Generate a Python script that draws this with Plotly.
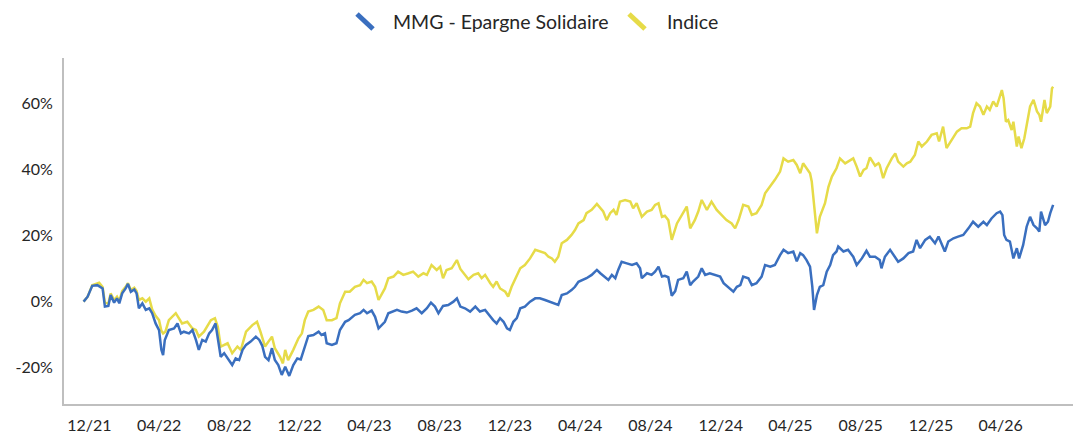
import plotly.graph_objects as go

# ---------------- data ----------------
fund_dates = [
    "2021-11-21","2021-11-28","2021-12-06","2021-12-15","2021-12-24","2021-12-28","2022-01-03","2022-01-07",
    "2022-01-13","2022-01-18","2022-01-22","2022-01-27","2022-02-02","2022-02-06","2022-02-11","2022-02-17",
    "2022-02-21","2022-02-25","2022-03-03","2022-03-09","2022-03-15","2022-03-20","2022-03-26","2022-04-01",
    "2022-04-05","2022-04-08","2022-04-11","2022-04-18","2022-04-27","2022-05-03","2022-05-09","2022-05-14",
    "2022-05-23","2022-05-29","2022-06-04","2022-06-09","2022-06-15","2022-06-21","2022-06-27","2022-07-02",
    "2022-07-08","2022-07-12","2022-07-17","2022-07-23","2022-07-29","2022-08-06","2022-08-12","2022-08-18",
    "2022-08-24","2022-08-30","2022-09-07","2022-09-16","2022-09-22","2022-09-27","2022-10-02","2022-10-08",
    "2022-10-14","2022-10-19","2022-10-25","2022-10-31","2022-11-06","2022-11-13","2022-11-20","2022-11-27",
    "2022-12-03","2022-12-10","2022-12-16","2022-12-25","2023-01-03","2023-01-08","2023-01-14","2023-01-17",
    "2023-01-26","2023-02-03","2023-02-09","2023-02-18","2023-02-24","2023-03-07","2023-03-16","2023-03-22",
    "2023-03-28","2023-04-05","2023-04-11","2023-04-17","2023-04-23","2023-04-28","2023-05-04","2023-05-13",
    "2023-05-19","2023-05-27","2023-06-05","2023-06-14","2023-06-22","2023-07-01","2023-07-10","2023-07-17",
    "2023-07-24","2023-07-30","2023-08-07","2023-08-16","2023-08-25","2023-08-31","2023-09-06","2023-09-14",
    "2023-09-23","2023-10-02","2023-10-10","2023-10-19","2023-10-28","2023-11-02","2023-11-08","2023-11-14",
    "2023-11-20","2023-11-26","2023-12-01","2023-12-07","2023-12-13","2023-12-19","2023-12-27","2024-01-05",
    "2024-01-14","2024-01-22","2024-01-31","2024-02-09","2024-02-17","2024-02-23","2024-02-29","2024-03-09",
    "2024-03-17","2024-03-23","2024-03-29","2024-04-07","2024-04-12","2024-04-21","2024-04-30","2024-05-06",
    "2024-05-14","2024-05-20","2024-05-26","2024-06-01","2024-06-06","2024-06-12","2024-06-21","2024-06-30",
    "2024-07-08","2024-07-14","2024-07-17","2024-07-26","2024-08-03","2024-08-09","2024-08-15","2024-08-21",
    "2024-08-26","2024-09-01","2024-09-07","2024-09-13","2024-09-18","2024-09-27","2024-10-03","2024-10-09",
    "2024-10-14","2024-10-23","2024-10-29","2024-11-04","2024-11-12","2024-11-21","2024-11-30","2024-12-06",
    "2024-12-14","2024-12-23","2024-12-29","2025-01-04","2025-01-09","2025-01-18","2025-01-24","2025-02-01",
    "2025-02-10","2025-02-16","2025-02-25","2025-03-05","2025-03-14","2025-03-20","2025-03-28","2025-04-06",
    "2025-04-12","2025-04-18","2025-04-23","2025-04-29","2025-05-05","2025-05-09","2025-05-12","2025-05-17",
    "2025-05-22","2025-05-28","2025-06-03","2025-06-09","2025-06-14","2025-06-20","2025-06-23","2025-07-02",
    "2025-07-10","2025-07-19","2025-07-25","2025-08-03","2025-08-11","2025-08-17","2025-08-26","2025-09-03",
    "2025-09-06","2025-09-12","2025-09-21","2025-09-27","2025-10-05","2025-10-14","2025-10-23","2025-10-31",
    "2025-11-06","2025-11-12","2025-11-21","2025-11-29","2025-12-08","2025-12-14","2025-12-20","2025-12-25",
    "2025-12-31","2026-01-09","2026-01-17","2026-01-26","2026-02-04","2026-02-12","2026-02-21","2026-03-02",
    "2026-03-08","2026-03-16","2026-03-25","2026-03-31","2026-04-04","2026-04-07","2026-04-11","2026-04-17",
    "2026-04-23","2026-04-29","2026-05-03","2026-05-10","2026-05-16","2026-05-22","2026-05-28","2026-06-03",
    "2026-06-07","2026-06-10","2026-06-17","2026-06-22","2026-06-26","2026-07-01",
]
fund_values = [
    -0.2, 1.3, 4.6, 4.8, 3.8, -1.7, -1.5, 1.8,
    -0.5, 0.8, -0.7, 2.3, 3.8, 5.2, 2.8, 3.5,
    2.3, -2.2, -0.7, -2.7, -2.2, -3.7, -6.8, -8.8,
    -14.8, -16.4, -11.8, -8.8, -8.3, -6.8, -9.8, -9.3,
    -9.8, -8.8, -11.8, -14.8, -11.8, -12.3, -9.8, -8.8,
    -6.8, -10.8, -16.9, -15.8, -17.4, -19.4, -17.4, -17.9,
    -14.8, -13.3, -12.3, -10.8, -11.8, -13.5, -16.9, -17.9,
    -14.3, -17.9, -19.4, -22.4, -19.9, -22.7, -19.4, -17.4,
    -17.7, -13.8, -10.6, -10.3, -9.3, -10.3, -9.8, -12.8,
    -13.3, -12.8, -8.8, -6.3, -5.8, -4.2, -3.7, -2.7,
    -3.7, -2.9, -4.8, -8.3, -7.3, -6.3, -3.7, -3.2,
    -2.7, -3.2, -3.5, -2.9, -2.2, -3.7, -2.2, -0.5,
    -1.7, -3.7, -1.5, -1.2, -0.2, 0.8, -1.7, -2.2,
    -3.2, -1.7, -3.2, -2.7, -4.8, -5.8, -6.8, -5.2,
    -6.3, -8.3, -8.8, -6.3, -5.2, -2.2, -1.7, -0.2,
    0.8, 0.8, 0.3, -0.2, -0.7, -1.2, 1.8, 2.3,
    3.3, 4.3, 5.8, 6.4, 6.9, 7.9, 9.4, 8.4,
    7.4, 6.4, 7.9, 6.9, 9.4, 11.9, 11.4, 10.9,
    11.4, 9.9, 6.9, 8.4, 7.9, 8.9, 10.4, 7.4,
    7.6, 7.2, 1.6, 3.0, 6.4, 6.9, 8.9, 4.8,
    5.9, 7.4, 9.9, 7.9, 8.4, 7.9, 7.4, 5.4,
    4.3, 2.8, 4.3, 4.8, 7.4, 6.9, 4.8, 5.4,
    7.4, 10.9, 10.4, 10.9, 13.9, 15.5, 14.5, 15.0,
    12.0, 14.5, 13.9, 12.4, 10.4, 4.3, -2.7, 1.8,
    4.3, 4.8, 8.9, 10.9, 13.9, 15.0, 16.5, 15.0,
    15.5, 13.4, 10.9, 12.9, 15.2, 13.4, 13.4, 12.4,
    9.9, 13.4, 15.5, 14.0, 11.9, 12.9, 14.5, 15.0,
    18.5, 16.0, 18.5, 19.5, 17.5, 19.5, 17.0, 15.0,
    18.0, 19.0, 19.5, 20.0, 22.0, 24.0, 22.5, 24.0,
    23.0, 25.0, 26.6, 27.1, 26.0, 20.0, 18.5, 18.0,
    12.9, 16.0, 12.9, 17.0, 22.5, 25.5, 23.0, 22.0,
    21.0, 27.1, 23.0, 24.0, 26.6, 29.1,
]

index_dates = [
    "2021-11-21","2021-11-28","2021-12-06","2021-12-15","2021-12-18","2021-12-24","2021-12-28","2022-01-03",
    "2022-01-07","2022-01-13","2022-01-18","2022-01-22","2022-01-27","2022-02-02","2022-02-06","2022-02-11",
    "2022-02-17","2022-02-21","2022-02-25","2022-03-03","2022-03-09","2022-03-15","2022-03-20","2022-03-26",
    "2022-04-01","2022-04-05","2022-04-08","2022-04-12","2022-04-18","2022-04-30","2022-05-06","2022-05-11",
    "2022-05-20","2022-05-29","2022-06-04","2022-06-09","2022-06-18","2022-06-30","2022-07-07","2022-07-12",
    "2022-07-17","2022-07-29","2022-08-06","2022-08-15","2022-08-21","2022-08-30","2022-09-10","2022-09-18",
    "2022-09-24","2022-10-02","2022-10-14","2022-10-19","2022-10-28","2022-11-02","2022-11-06","2022-11-11",
    "2022-11-20","2022-11-29","2022-12-05","2022-12-10","2022-12-16","2022-12-25","2023-01-03","2023-01-11",
    "2023-01-17","2023-01-26","2023-02-03","2023-02-09","2023-02-18","2023-02-26","2023-03-07","2023-03-16",
    "2023-03-22","2023-03-28","2023-04-05","2023-04-11","2023-04-17","2023-04-23","2023-04-28","2023-05-04",
    "2023-05-13","2023-05-21","2023-05-30","2023-06-08","2023-06-16","2023-06-25","2023-07-04","2023-07-10",
    "2023-07-18","2023-07-27","2023-08-02","2023-08-07","2023-08-13","2023-08-22","2023-08-31","2023-09-06",
    "2023-09-11","2023-09-20","2023-09-29","2023-10-07","2023-10-13","2023-10-19","2023-10-28","2023-11-02",
    "2023-11-08","2023-11-14","2023-11-23","2023-11-28","2023-12-04","2023-12-10","2023-12-19","2023-12-27",
    "2024-01-05","2024-01-14","2024-01-22","2024-01-31","2024-02-06","2024-02-12","2024-02-17","2024-02-23",
    "2024-02-29","2024-03-09","2024-03-17","2024-03-23","2024-03-29","2024-04-07","2024-04-12","2024-04-21",
    "2024-04-30","2024-05-06","2024-05-11","2024-05-17","2024-05-23","2024-05-29","2024-06-03","2024-06-09",
    "2024-06-18","2024-06-27","2024-07-02","2024-07-08","2024-07-17","2024-07-26","2024-08-03","2024-08-09",
    "2024-08-15","2024-08-21","2024-08-26","2024-09-01","2024-09-07","2024-09-16","2024-09-24","2024-10-03",
    "2024-10-09","2024-10-17","2024-10-23","2024-10-29","2024-11-07","2024-11-15","2024-11-24","2024-12-03",
    "2024-12-11","2024-12-20","2024-12-26","2025-01-01","2025-01-09","2025-01-18","2025-01-24","2025-02-01",
    "2025-02-10","2025-02-16","2025-02-25","2025-03-05","2025-03-14","2025-03-20","2025-03-28","2025-04-06",
    "2025-04-12","2025-04-18","2025-04-23","2025-04-29","2025-05-05","2025-05-08","2025-05-12","2025-05-17",
    "2025-05-22","2025-05-31","2025-06-06","2025-06-12","2025-06-20","2025-06-26","2025-07-05","2025-07-10",
    "2025-07-19","2025-07-25","2025-07-31","2025-08-06","2025-08-11","2025-08-17","2025-08-26","2025-09-01",
    "2025-09-03","2025-09-09","2025-09-15","2025-09-24","2025-09-30","2025-10-05","2025-10-14","2025-10-20",
    "2025-10-26","2025-11-03","2025-11-09","2025-11-15","2025-11-24","2025-12-02","2025-12-11","2025-12-15",
    "2025-12-22","2025-12-28","2026-01-06","2026-01-15","2026-01-23","2026-02-01","2026-02-07","2026-02-12",
    "2026-02-18","2026-02-24","2026-03-02","2026-03-08","2026-03-13","2026-03-19","2026-03-25","2026-03-31",
    "2026-04-03","2026-04-06","2026-04-10","2026-04-14","2026-04-20","2026-04-23","2026-04-29","2026-05-02",
    "2026-05-07","2026-05-12","2026-05-19","2026-05-22","2026-05-28","2026-06-03","2026-06-07","2026-06-10",
    "2026-06-16","2026-06-20","2026-06-26","2026-06-29","2026-07-01",
]
index_values = [
    -0.2, 1.3, 4.8, 5.3, 5.5, 4.2, -0.5, -0.8,
    2.3, 0.3, 1.3, 0.0, 3.0, 4.3, 5.4, 3.3,
    4.0, 3.0, 0.3, 0.8, -0.2, 0.8, -2.5, -4.5,
    -5.8, -9.0, -9.8, -9.3, -5.8, -3.7, -5.2, -6.8,
    -6.3, -8.3, -8.8, -10.8, -9.3, -5.8, -5.2, -7.8,
    -13.8, -12.8, -15.8, -13.8, -14.8, -9.3, -7.3, -6.3,
    -9.3, -13.8, -10.8, -14.3, -16.9, -18.9, -14.8, -17.9,
    -14.8, -11.3, -9.8, -5.8, -3.2, -2.7, -1.7, -2.7,
    -5.8, -5.8, -5.2, -0.7, 2.8, 2.8, 4.3, 4.8,
    6.4, 5.4, 5.9, 4.3, 0.3, 2.3, 3.8, 6.9,
    7.4, 8.9, 7.9, 8.4, 8.9, 7.4, 8.4, 7.9,
    10.9, 9.4, 10.4, 6.9, 9.4, 9.9, 12.4, 9.7,
    8.6, 6.6, 7.9, 8.4, 6.9, 7.9, 5.4, 4.3,
    5.9, 3.8, 2.8, 1.3, 4.3, 6.4, 9.9, 10.9,
    12.9, 15.5, 15.0, 14.5, 13.4, 12.9, 11.9, 13.4,
    17.5, 18.5, 20.0, 21.5, 23.5, 24.5, 26.6, 27.6,
    29.4, 28.1, 27.1, 24.5, 26.6, 27.6, 26.1, 30.1,
    30.6, 30.1, 28.1, 29.6, 25.5, 27.1, 27.6, 29.1,
    29.6, 25.5, 25.8, 24.5, 18.5, 23.5, 26.1, 28.6,
    22.0, 24.5, 27.1, 30.6, 27.6, 30.1, 27.6, 26.1,
    24.5, 23.5, 22.0, 24.5, 29.1, 28.6, 26.1, 26.6,
    29.1, 32.6, 34.6, 36.7, 39.2, 43.2, 42.2, 42.7,
    41.2, 38.7, 41.7, 40.2, 38.7, 36.2, 29.6, 20.5,
    25.5, 29.6, 34.6, 37.7, 40.2, 43.2, 41.7, 42.2,
    43.2, 40.7, 37.7, 39.7, 40.2, 43.5, 41.0, 41.7,
    41.2, 37.2, 40.2, 43.2, 44.7, 42.2, 40.7, 41.7,
    42.2, 44.2, 48.3, 46.8, 48.3, 50.3, 50.8, 48.3,
    52.8, 46.3, 48.8, 51.3, 52.3, 52.3, 52.8, 56.9,
    59.9, 58.9, 56.4, 58.9, 57.9, 60.4, 58.9, 62.4,
    63.9, 61.4, 54.3, 54.8, 51.8, 54.3, 46.8, 49.8,
    46.3, 49.3, 56.9, 58.9, 60.9, 57.4, 56.4, 54.3,
    60.9, 56.9, 58.9, 64.4, 64.9, 63.4,
]

series_names = ["MMG - Epargne Solidaire", "Indice"]
tick_dates = ["2021-12-01", "2022-04-01", "2022-08-01", "2022-12-01", "2023-04-01",
              "2023-08-01", "2023-12-01", "2024-04-01", "2024-08-01", "2024-12-01",
              "2025-04-01", "2025-08-01", "2025-12-01", "2026-04-01"]
y_ticks = [-20, 0, 20, 40, 60]
y_tick_labels = [f"{v}%" for v in y_ticks]

# ---------------- style ----------------
BLUE = "#3A6FBF"
YELLOW = "#E6DB48"
FONT = "Lato, 'Open Sans', sans-serif"
TEXT = "#262626"
AXIS = "#BFBFBF"

fig = go.Figure()
fig.add_trace(go.Scatter(x=index_dates, y=index_values, mode="lines",
                         name=series_names[1], line=dict(color=YELLOW, width=2.5),
                         showlegend=False))
fig.add_trace(go.Scatter(x=fund_dates, y=fund_values, mode="lines",
                         name=series_names[0], line=dict(color=BLUE, width=2.5),
                         showlegend=False))

# custom legend (slanted swatches like the original)
W, H = 1079, 434
L, R, T, B = 64, 6, 58, 30
pw, ph = W - L - R, H - T - B
def px(xp):
    return (xp - L) / pw
def py(yp):
    return (H - B - yp) / ph

legend_items = [(series_names[0], BLUE, 357, 391), (series_names[1], YELLOW, 629, 665)]
for name, col, sx, tx in legend_items:
    fig.add_shape(type="line", xref="paper", yref="paper",
                  x0=px(sx), y0=py(14), x1=px(sx + 16), y1=py(29),
                  line=dict(color=col, width=5))
    fig.add_annotation(text=name, xref="paper", yref="paper", x=px(tx), y=py(22),
                       xanchor="left", yanchor="middle", showarrow=False,
                       font=dict(family=FONT, size=19.5, color=TEXT))

fig.update_layout(
    width=W, height=H,
    margin=dict(l=L, r=R, t=T, b=B, autoexpand=False),
    paper_bgcolor="white", plot_bgcolor="white",
    font=dict(family=FONT, size=16, color=TEXT),
    showlegend=False,
)
fig.update_xaxes(
    type="date", range=["2021-10-18", "2026-08-04 12:00"],
    tickvals=tick_dates, tickformat="%m/%y",
    showgrid=False, zeroline=False,
    showline=True, linecolor=AXIS, linewidth=2,
    ticks="outside", ticklen=6, tickcolor="rgba(0,0,0,0)",
    tickfont=dict(family=FONT, size=16, color=TEXT),
)
fig.update_yaxes(
    range=[-31.2, 73.6], tickvals=y_ticks, ticktext=y_tick_labels,
    showgrid=False, zeroline=False,
    showline=True, linecolor=AXIS, linewidth=2,
    ticks="outside", ticklen=6, tickcolor="rgba(0,0,0,0)",
    tickfont=dict(family=FONT, size=16, color=TEXT),
)

fig.write_html("out.html", config={"displayModeBar": False},
               post_script="document.body.style.margin='0';")
